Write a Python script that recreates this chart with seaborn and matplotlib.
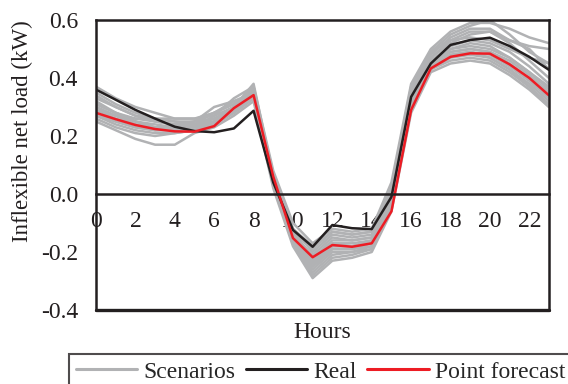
import numpy as np
import pandas as pd
import matplotlib
matplotlib.use("Agg")
import matplotlib.pyplot as plt
from matplotlib.lines import Line2D
import seaborn as sns

hours = list(range(24))

real = [0.36, 0.325, 0.29, 0.26, 0.232, 0.217, 0.213, 0.226, 0.287, 0.04, -0.124, -0.182,
        -0.107, -0.118, -0.121, -0.01, 0.335, 0.45, 0.514, 0.531, 0.539, 0.51, 0.473, 0.428]
forecast = [0.28, 0.258, 0.238, 0.224, 0.216, 0.215, 0.234, 0.296, 0.341, 0.06, -0.152, -0.218,
            -0.176, -0.182, -0.17, -0.06, 0.29, 0.433, 0.473, 0.485, 0.484, 0.447, 0.40, 0.34]

scenarios = [
    [.37, .33, .30, .28, .26, .26, .27, .30, .37, .08, -.10, -.17, -.12, -.13, -.12, .04, .38, .50, .56, .59, .59, .57, .54, .52],
    [.35, .31, .28, .26, .25, .25, .26, .29, .36, .07, -.12, -.20, -.14, -.15, -.14, .02, .36, .49, .55, .58, .60, .55, .49, .45],
    [.33, .30, .27, .25, .24, .24, .26, .30, .38, .06, -.13, -.22, -.16, -.16, -.15, .01, .35, .48, .54, .57, .57, .53, .50, .43],
    [.31, .28, .26, .25, .24, .25, .28, .31, .36, .05, -.14, -.23, -.17, -.17, -.16, .00, .34, .47, .53, .56, .56, .52, .46, .40],
    [.30, .27, .24, .22, .22, .24, .28, .32, .35, .05, -.15, -.24, -.18, -.18, -.17, -.01, .33, .46, .51, .53, .52, .49, .44, .38],
    [.29, .26, .24, .23, .23, .24, .26, .29, .34, .04, -.15, -.25, -.19, -.19, -.17, -.02, .32, .45, .49, .50, .49, .46, .41, .35],
    [.28, .25, .23, .22, .22, .23, .27, .33, .37, .04, -.16, -.26, -.20, -.20, -.18, -.03, .31, .44, .48, .49, .48, .44, .39, .33],
    [.27, .24, .22, .21, .21, .22, .25, .30, .35, .03, -.17, -.27, -.21, -.20, -.19, -.04, .30, .43, .47, .48, .47, .43, .38, .32],
    [.26, .23, .21, .20, .21, .22, .24, .28, .33, .03, -.17, -.28, -.22, -.21, -.19, -.05, .29, .43, .46, .47, .46, .42, .37, .31],
    [.25, .22, .19, .17, .17, .21, .23, .27, .32, .02, -.18, -.29, -.23, -.22, -.20, -.06, .28, .42, .45, .46, .45, .41, .36, .30],
    [.32, .28, .25, .23, .22, .23, .25, .29, .35, .04, -.14, -.21, -.15, -.16, -.15, -.01, .33, .46, .50, .51, .50, .47, .42, .37],
    [.29, .27, .26, .26, .26, .26, .28, .31, .36, .05, -.13, -.19, -.13, -.14, -.13, .01, .34, .47, .52, .55, .56, .53, .51, .50],
    [.34, .30, .27, .26, .25, .24, .25, .28, .34, .06, -.12, -.18, -.13, -.14, -.13, .02, .37, .49, .53, .54, .53, .50, .47, .45],
    [.27, .25, .23, .22, .23, .25, .30, .32, .34, .04, -.16, -.25, -.19, -.19, -.18, -.03, .30, .44, .48, .49, .47, .43, .37, .30],
    [.31, .28, .25, .24, .23, .23, .24, .28, .33, .04, -.15, -.24, -.18, -.18, -.17, -.02, .31, .45, .49, .50, .49, .45, .40, .34],
    [.30, .27, .25, .23, .22, .22, .24, .30, .36, .05, -.14, -.23, -.17, -.18, -.16, -.01, .32, .45, .50, .52, .51, .47, .42, .36],
]

GRAY = "#b1b2b4"
BLACK = "#231f20"
RED = "#ed1c24"

sns.set_style("white")
plt.rcParams["font.family"] = ["Liberation Serif", "DejaVu Serif"]
plt.rcParams["axes.unicode_minus"] = False

# long table for the scenario lines
scen_df = pd.DataFrame(
    [(i, h, v) for i, s in enumerate(scenarios) for h, v in zip(hours, s)],
    columns=["scenario", "hour", "value"],
)

fig = plt.figure(figsize=(5.68, 3.84), dpi=100)
ax = fig.add_axes([96 / 568, 1 - 310 / 384, 453 / 568, 290 / 384])

sns.lineplot(data=scen_df, x="hour", y="value", units="scenario", estimator=None,
             color=GRAY, lw=1.8, ax=ax, legend=False)
sns.lineplot(x=hours, y=real, color=BLACK, lw=1.8, ax=ax)
sns.lineplot(x=hours, y=forecast, color=RED, lw=1.8, ax=ax)

ax.set_xlim(0, 23)
ax.set_ylim(-0.4, 0.6)
ax.set_xticks(range(0, 23, 2))
ax.set_yticks(np.arange(-0.4, 0.61, 0.2))
ax.set_yticklabels([f"{t:.1f}" for t in np.arange(-0.4, 0.61, 0.2)])

for sp in ax.spines.values():
    sp.set_color(BLACK)
    sp.set_linewidth(1.8)
ax.spines["bottom"].set_position(("data", 0))
ax.axhline(-0.4, color=BLACK, lw=2.4, clip_on=False)

ax.tick_params(axis="x", direction="in", length=5, width=1.8, pad=12,
               labelsize=17, colors=BLACK)
ax.tick_params(axis="y", direction="out", length=5, width=1.8, pad=8,
               labelsize=17, colors=BLACK)

ax.set_xlabel("Hours", fontsize=17, color=BLACK)
ax.xaxis.set_label_coords(0.5, -0.04)
ax.set_ylabel("Inflexible net load (kW)", fontsize=16.5, color=BLACK)
ax.yaxis.set_label_coords(-0.14, 0.617)

handles = [
    Line2D([], [], color=GRAY, lw=2.2),
    Line2D([], [], color=BLACK, lw=2.2),
    Line2D([], [], color=RED, lw=2.2),
]
leg = fig.legend(handles, ["Scenarios", "Real", "Point forecast"], ncol=3,
                 loc="upper left", bbox_to_anchor=(69 / 568, 1 - 354 / 384),
                 fontsize=17, frameon=True, fancybox=False, handlelength=2.6,
                 handletextpad=0.25, columnspacing=0.45, borderpad=0.3,
                 borderaxespad=0)
leg.get_frame().set_edgecolor(BLACK)
leg.get_frame().set_linewidth(1.5)

fig.savefig("out.png", dpi=100)
